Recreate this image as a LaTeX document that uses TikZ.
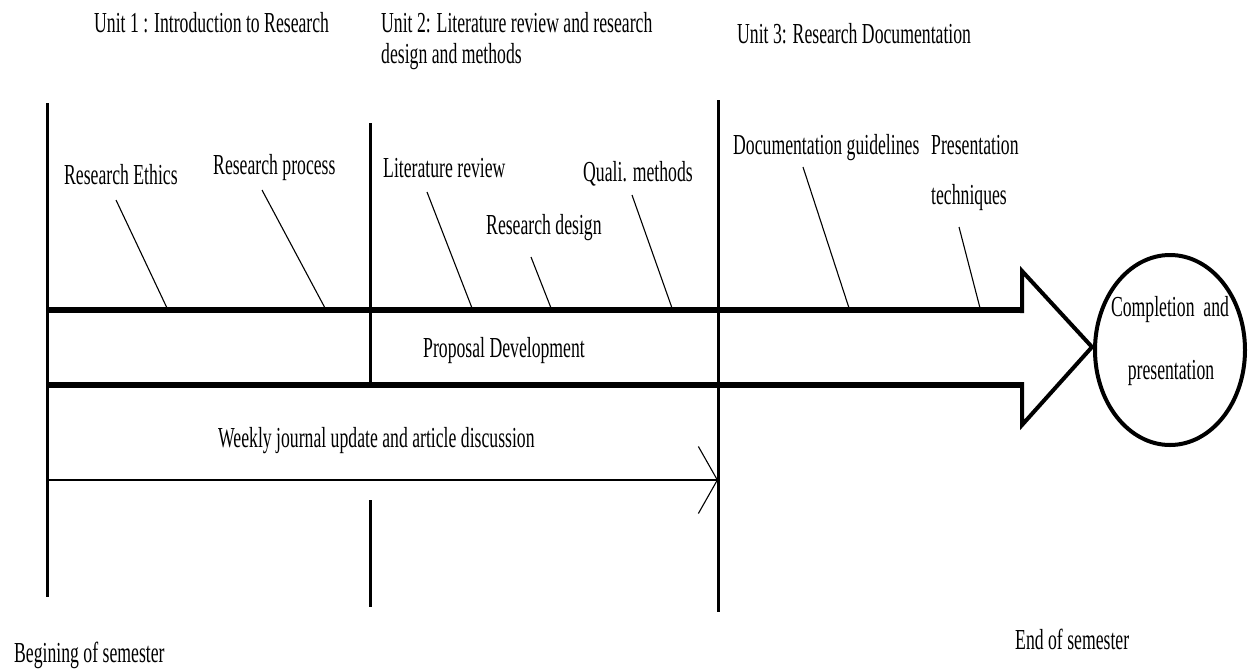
\documentclass[tikz,border=0pt]{standalone}
\usepackage{fontspec}
\setmainfont{Liberation Serif}[FakeStretch=0.61]
\usetikzlibrary{arrows.meta,shapes.geometric}
\begin{document}
\begin{tikzpicture}[x=1pt,y=-1pt,
  lbl/.style={anchor=base west,inner sep=0pt,font=\fontsize{29}{32}\selectfont},
  vline/.style={line width=3pt},
  band/.style={line width=6pt},
  head/.style={line width=4pt,line join=miter},
  callout/.style={line width=1.1pt}]
\useasboundingbox (0,0) rectangle (1248,670);
% unit headings
\node[lbl] (u1) at (94,32) {Unit 1 : Introduction to Research};
\node[lbl] (u2a) at (381,32) {Unit 2: Literature review and research};
\node[lbl] (u2b) at (381,63) {design and methods};
\node[lbl] (u3) at (737,43) {Unit 3: Research Documentation};
% vertical lines
\coordinate (l1t) at (47,103); \coordinate (l1b) at (47,597);
\coordinate (l2t) at (370,123); \coordinate (l2m) at (370,388);
\coordinate (l2c) at (370,500); \coordinate (l2b) at (370,607);
\coordinate (l3t) at (718,100); \coordinate (l3b) at (718,612);
\draw[vline] (l1t) -- (l1b);
\draw[vline] (l2t) -- (l2m);
\draw[vline] (l2c) -- (l2b);
\draw[vline] (l3t) -- (l3b);
% band arrow
\coordinate (bt0) at (47,310); \coordinate (bt1) at (1022,310);
\coordinate (bb0) at (47,385); \coordinate (bb1) at (1022,385);
\coordinate (ht) at (1022,271); \coordinate (hb) at (1022,425);
\coordinate (tip) at (1092,347);
\draw[band] (bt0) -- (bt1);
\draw[band] (bb0) -- (bb1);
\draw[head] ([yshift=-3pt]bt1) -- (ht) -- (tip) -- (hb) -- ([yshift=3pt]bb1);
% end ellipse
\node[draw,ellipse,line width=4pt,minimum width=150pt,minimum height=190pt] (done) at (1170,350) {};
\node[lbl,anchor=base] (c1) at (1170,316) {Completion\ \ and};
\node[lbl,anchor=base] (c2) at (1171,379) {presentation};
% topic labels and callouts
\node[lbl] (eth) at (64,184) {Research Ethics};
\node[lbl] (proc) at (213,174) {Research process};
\node[lbl] (lit) at (383,177) {Literature review};
\node[lbl] (des) at (486,234) {Research design};
\node[lbl] (qual) at (583,181) {Quali. methods};
\node[lbl] (doc) at (733,154) {Documentation guidelines};
\node[lbl] (pres1) at (931,154) {Presentation};
\node[lbl] (pres2) at (931,204) {techniques};
\coordinate (e1) at (116,200); \coordinate (e2) at (167,308);
\coordinate (p1) at (262,190); \coordinate (p2) at (325,308);
\coordinate (r1) at (427,192); \coordinate (r2) at (472,308);
\coordinate (d1) at (531,257); \coordinate (d2) at (551,308);
\coordinate (q1) at (632,195); \coordinate (q2) at (672,308);
\coordinate (g1) at (803,167); \coordinate (g2) at (849,308);
\coordinate (t1) at (959,227); \coordinate (t2) at (980,308);
\foreach \a/\b in {e1/e2,p1/p2,r1/r2,d1/d2,q1/q2,g1/g2,t1/t2}
  \draw[callout] (\a) -- (\b);
% middle texts
\node[lbl] (prop) at (423,357) {Proposal Development};
\node[lbl] (week) at (218,447) {Weekly journal update and article discussion};
\coordinate (ws) at (47,480); \coordinate (we) at (718,480);
\draw[line width=1.5pt,-{Straight Barb[length=19pt,width=67pt,line width=1.1pt]}] (ws) -- (we);
% bottom labels
\node[lbl] (beg) at (14,662) {Begining of semester};
\node[lbl] (end) at (1015,649) {End of semester};
\end{tikzpicture}
\end{document}
